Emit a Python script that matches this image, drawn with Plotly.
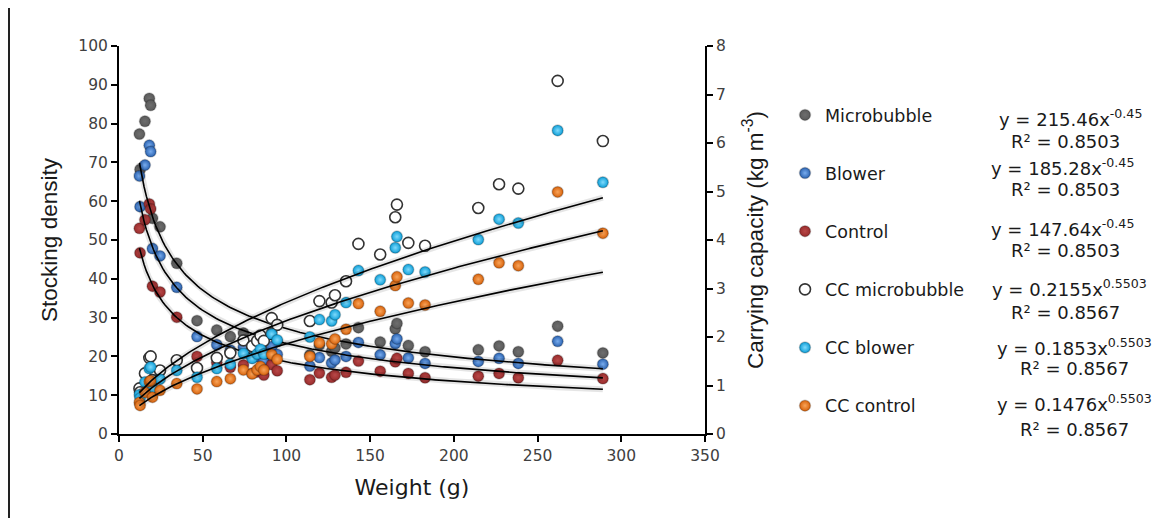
import numpy as np
import plotly.graph_objects as go

# ---------------- data ----------------
weight = [12.2, 12.6, 15.5, 18.1, 18.9, 20.0, 24.5, 34.5, 46.6, 58.4, 66.5, 74.3,
          79.5, 82.5, 84.5, 86.5, 91.2, 94.5, 114.0, 119.7, 127.0, 129.0, 135.6,
          143.0, 156.0, 165.0, 166.0, 172.8, 182.8, 214.6, 227.0, 238.5, 262.0, 289.0]

microbubble = [77.3, 68.2, 80.6, 86.5, 84.7, 55.6, 53.4, 44.0, 29.2, 26.8, 25.1, 26.0,
               22.8, 23.3, 24.0, 22.2, 26.2, 23.8, 20.4, 22.9, 21.3, 22.2, 23.2,
               27.4, 23.7, 27.1, 28.5, 22.8, 21.2, 21.7, 22.7, 21.2, 27.8, 20.9]

blower = [66.5, 58.6, 69.3, 74.4, 72.8, 47.8, 45.9, 37.8, 25.1, 23.0, 21.6, 22.4,
          19.6, 20.0, 20.6, 19.1, 22.5, 20.5, 17.5, 19.7, 18.3, 19.1, 20.0,
          23.6, 20.4, 23.3, 24.5, 19.6, 18.2, 18.7, 19.5, 18.2, 23.9, 18.0]

control = [53.0, 46.7, 55.2, 59.3, 58.0, 38.1, 36.6, 30.1, 20.0, 18.4, 17.2, 17.8,
           15.6, 16.0, 16.4, 15.2, 17.9, 16.3, 14.0, 15.7, 14.6, 15.2, 15.9,
           18.8, 16.2, 18.6, 19.5, 15.6, 14.5, 14.9, 15.6, 14.5, 19.0, 14.3]

cc_microbubble = [0.94, 0.86, 1.25, 1.57, 1.60, 1.11, 1.31, 1.52, 1.36, 1.57, 1.67, 1.93,
                  1.81, 1.92, 2.03, 1.92, 2.39, 2.25, 2.33, 2.74, 2.71, 2.86, 3.15,
                  3.92, 3.70, 4.47, 4.73, 3.94, 3.88, 4.66, 5.15, 5.06, 7.28, 6.04]

cc_blower = [0.81, 0.74, 1.07, 1.35, 1.38, 0.95, 1.13, 1.31, 1.17, 1.35, 1.44, 1.66,
             1.56, 1.65, 1.75, 1.65, 2.06, 1.94, 2.00, 2.36, 2.33, 2.46, 2.71,
             3.37, 3.18, 3.84, 4.07, 3.39, 3.34, 4.01, 4.43, 4.35, 6.26, 5.19]

cc_control = [0.65, 0.59, 0.86, 1.08, 1.10, 0.76, 0.90, 1.04, 0.93, 1.08, 1.14, 1.32,
              1.24, 1.32, 1.39, 1.32, 1.64, 1.54, 1.60, 1.88, 1.86, 1.96, 2.16,
              2.69, 2.53, 3.06, 3.24, 2.70, 2.66, 3.19, 3.53, 3.47, 4.99, 4.14]

series_names = ["Microbubble", "Blower", "Control",
                "CC microbubble", "CC blower", "CC control"]

# power-law trendline coefficients shown on the chart: y = a * x^b
fit_a = [215.46, 185.28, 147.64, 0.2155, 0.1853, 0.1476]
fit_b = [-0.45, -0.45, -0.45, 0.5503, 0.5503, 0.5503]
eq_text = ["y = 215.46x<sup>-0.45</sup>", "y = 185.28x<sup>-0.45</sup>",
           "y = 147.64x<sup>-0.45</sup>", "y = 0.2155x<sup>0.5503</sup>",
           "y = 0.1853x<sup>0.5503</sup>", "y = 0.1476x<sup>0.5503</sup>"]
r2_text = ["R² = 0.8503", "R² = 0.8503", "R² = 0.8503",
           "R² = 0.8567", "R² = 0.8567", "R² = 0.8567"]

x_ticks = [0, 50, 100, 150, 200, 250, 300, 350]
y_ticks = [0, 10, 20, 30, 40, 50, 60, 70, 80, 90, 100]
y2_ticks = [0, 1, 2, 3, 4, 5, 6, 7, 8]

# ---------------- layout helpers (page pixels; page body has an 8px margin) ----------------
OFF = 8
W, H = 1167 - OFF, 518 - OFF
L, R, T, B = 119 - OFF, 705 - OFF, 46 - OFF, 434 - OFF


def px_x(p):
    return (p - OFF - L) / (R - L)


def px_y(p):
    return (B - (p - OFF)) / (B - T)


FONT = "DejaVu Sans"
TXT = "#1a1a1a"
halo = "rgba(0,0,0,0.20)"
styles = [
    dict(color="#5a5a5a", gradient=dict(type="radial", color="#6e6e6e"),
         line=dict(color=halo, width=1.5)),
    dict(color="#2a62b0", gradient=dict(type="radial", color="#78acee"),
         line=dict(color=halo, width=1.5)),
    dict(color="#992c2c", gradient=dict(type="radial", color="#b84848"),
         line=dict(color=halo, width=1.5)),
    dict(color="#ffffff", line=dict(color="#333333", width=1.6)),
    dict(color="#0c9ed8", gradient=dict(type="radial", color="#7fdafc"),
         line=dict(color=halo, width=1.5)),
    dict(color="#d8620a", gradient=dict(type="radial", color="#f8a45a"),
         line=dict(color=halo, width=1.5)),
]
values = [microbubble, blower, control, cc_microbubble, cc_blower, cc_control]
axes = ["y", "y", "y", "y2", "y2", "y2"]

fig = go.Figure()
xfit = np.linspace(min(weight), max(weight), 200)

for i in range(6):
    fig.add_trace(go.Scatter(
        x=weight, y=values[i], mode="markers", name=series_names[i],
        yaxis=axes[i], legendgroup=series_names[i],
        marker=dict(size=11, **styles[i]),
    ))
for i in range(6):
    yfit = fit_a[i] * xfit ** fit_b[i]
    fig.add_trace(go.Scatter(x=xfit, y=yfit, mode="lines", yaxis=axes[i],
                             line=dict(color="rgba(0,0,0,0.10)", width=6),
                             showlegend=False, hoverinfo="skip"))
    fig.add_trace(go.Scatter(x=xfit, y=yfit, mode="lines", yaxis=axes[i],
                             line=dict(color="#000000", width=1.6),
                             showlegend=False, hoverinfo="skip"))

axis_common = dict(showgrid=False, zeroline=False, showline=True, linecolor="#000000",
                   linewidth=2, ticks="outside", ticklen=6, tickwidth=2, tickcolor="#000000",
                   tickfont=dict(family=FONT, size=15.5, color="#404040"))

fig.update_layout(
    width=W, height=H, autosize=False,
    margin=dict(l=L, r=W - R, t=T, b=H - B, pad=0),
    paper_bgcolor="white", plot_bgcolor="white",
    showlegend=True,
    legend=dict(x=px_x(785), y=px_y(97), xanchor="left", yanchor="top",
                font=dict(family=FONT, size=17.5, color=TXT),
                tracegroupgap=32.4, bgcolor="rgba(0,0,0,0)", itemsizing="trace"),
    xaxis=dict(range=[0, 350], tickvals=x_ticks, **axis_common,
               title=dict(text="Weight (g)", standoff=16,
                          font=dict(family=FONT, size=22, color=TXT))),
    yaxis=dict(range=[0, 100], tickvals=y_ticks, **axis_common,
               title=dict(text="Stocking density", standoff=14,
                          font=dict(family="Liberation Sans", size=22.5, color=TXT))),
    yaxis2=dict(range=[0, 8], tickvals=y2_ticks, overlaying="y", side="right",
                anchor="x", **axis_common,
                title=dict(text="Carrying capacity (kg m<sup>-3</sup>)", standoff=22,
                           font=dict(family="Liberation Sans", size=22.5, color=TXT))),
)

eq_pos = [(1070, 118, 1065, 141), (1062, 167, 1065, 189), (1062, 228, 1065, 250),
          (1069, 288, 1065, 312), (1074, 347, 1074, 368), (1074, 403, 1074, 429)]
for i in range(6):
    ex, ey, rx, ry = eq_pos[i]
    fig.add_annotation(x=px_x(ex), y=px_y(ey), xref="paper", yref="paper",
                       text=eq_text[i], showarrow=False, xanchor="center", yanchor="middle",
                       font=dict(family=FONT, size=18, color=TXT))
    fig.add_annotation(x=px_x(rx), y=px_y(ry), xref="paper", yref="paper",
                       text=r2_text[i], showarrow=False, xanchor="center", yanchor="middle",
                       font=dict(family=FONT, size=18, color=TXT))

# chart-area border (left edge visible in the reference)
fig.add_shape(type="line", xref="paper", yref="paper",
              x0=px_x(9), x1=px_x(9), y0=px_y(518), y1=px_y(8),
              line=dict(color="#222222", width=2))

fig.write_html("out.html")
